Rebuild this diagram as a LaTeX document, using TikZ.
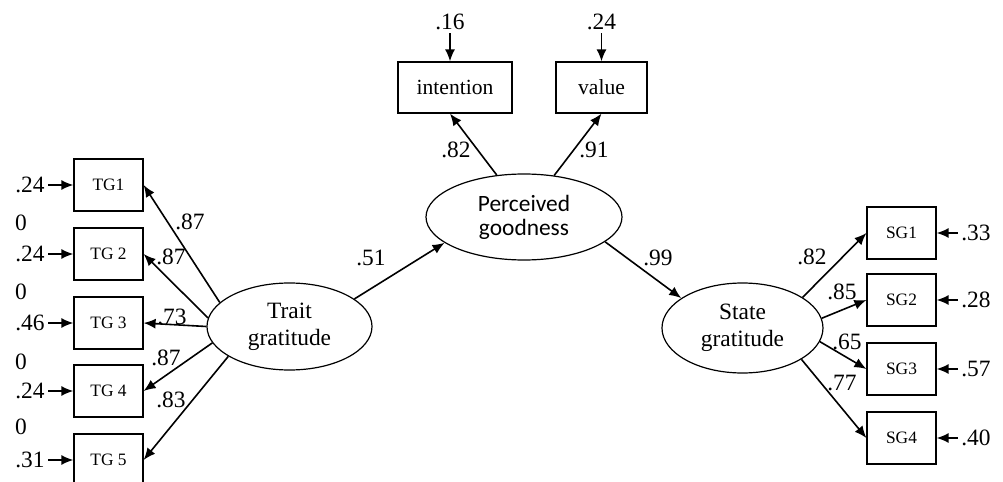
\documentclass[tikz,border=0pt]{standalone}
\usepackage{fontspec}
\setmainfont{Liberation Serif}
\newfontfamily\calibrifont{Carlito}
\usetikzlibrary{arrows.meta, shapes.geometric}
\tikzset{
	indicator/.style={draw, line width=0.6pt, rectangle, minimum width=34.5pt,
		minimum height=26pt, inner sep=0pt, font=\fontsize{8.7}{10}\selectfont},
	latent/.style={draw, line width=0.6pt, ellipse, inner sep=0pt, align=center,
		font=\fontsize{11.7}{13.5}\selectfont},
	coef/.style={inner sep=1.5pt, font=\fontsize{11.7}{12}\selectfont},
	link/.style={line width=0.8pt, -{Latex[length=6pt,width=5pt]}},
}

\begin{document}
\begin{tikzpicture}[x=0.5pt, y=-0.5pt]
		\useasboundingbox (0,0) rectangle (1003,482);
		\node [latent, minimum width=82.5pt, minimum height=43.5pt] (tg) at (289.5,326.5) {
			Trait\\gratitude
		};
		\node [latent, minimum width=98pt, minimum height=43pt,
			font=\calibrifont\fontsize{11.7}{12}\selectfont] (pg) at (524,217) {
			Perceived\\goodness
		};
		\node [latent, minimum width=80.5pt, minimum height=45pt] (sg) at (742.5,328) {
			State\\gratitude
		};
		\foreach \lab/\y/\err/\w/\a/\lx/\ly [count=\i] in {
			TG1/185/.24/.87/161/190/222,
			TG 2/254/.24/.87/174/171/257,
			TG 3/323/.46/.73/180/172/317,
			TG 4/391/.24/.87/192/166/358,
			TG 5/460/.31/.83/206/171/400} {
			\node [indicator] (tg-\i) at (108.5,\y) {\lab};
			\node [coef] (tge-\i) at (30,\y) {\err};
			\node [coef] (tgl-\i) at (\lx,\ly) {\w};
			\draw [link] (tge-\i) -- (tg-\i.west);
			\draw [link] (tg.\a) -- (tg-\i.east);
		};
		\foreach \y [count=\i] in {223,292,362,427} {
			\node [coef] (zero-\i) at (21,\y) {0};
		};
		\foreach \lab/\y/\err/\w/\a/\lx/\ly [count=\i] in {
			SG1/233/.33/.82/27/812/257,
			SG2/300/.28/.85/7/842/292,
			SG3/369/.57/.65/-10/847/342,
			SG4/438/.40/.77/-28/842/383} {
			\node [indicator] (sg-\i) at (901.5,\y) {\lab};
			\node [coef] (sge-\i) at (976,\y) {\err};
			\node [coef] (sgl-\i) at (\lx,\ly) {\w};
			\draw [link] (sge-\i) -- (sg-\i.east);
			\draw [link] (sg.\a) -- (sg-\i.west);
		};
		\node [indicator, minimum width=57pt, minimum height=25.5pt,
			font=\fontsize{10.8}{12}\selectfont] (int) at (455,87.5) {intention};
		\node [indicator, minimum width=45.5pt, minimum height=25.5pt,
			font=\fontsize{10.8}{12}\selectfont] (val) at (601.5,87.5) {value};
		\node [coef] (inte) at (450,22) {.16};
		\node [coef] (vale) at (601.5,22) {.24};
		\draw [link] (inte) -- (inte |- int.north);
		\draw [link] (vale) -- (vale |- val.north);
		\draw [link] (pg.123) -- ([xshift=-2.5pt]int.south);
		\draw [link] (pg.54) -- (val.south);
		\node [coef] (intl) at (456,150) {.82};
		\node [coef] (vall) at (594,150) {.91};
		\draw [link] (tg.23) -- (pg.198);
		\node [coef] (pgl) at (371,258) {.51};
		\draw [link] (pg.-17) -- (sg.154);
		\node [coef] (sgl) at (658,258) {.99};
	\end{tikzpicture}
\end{document}
